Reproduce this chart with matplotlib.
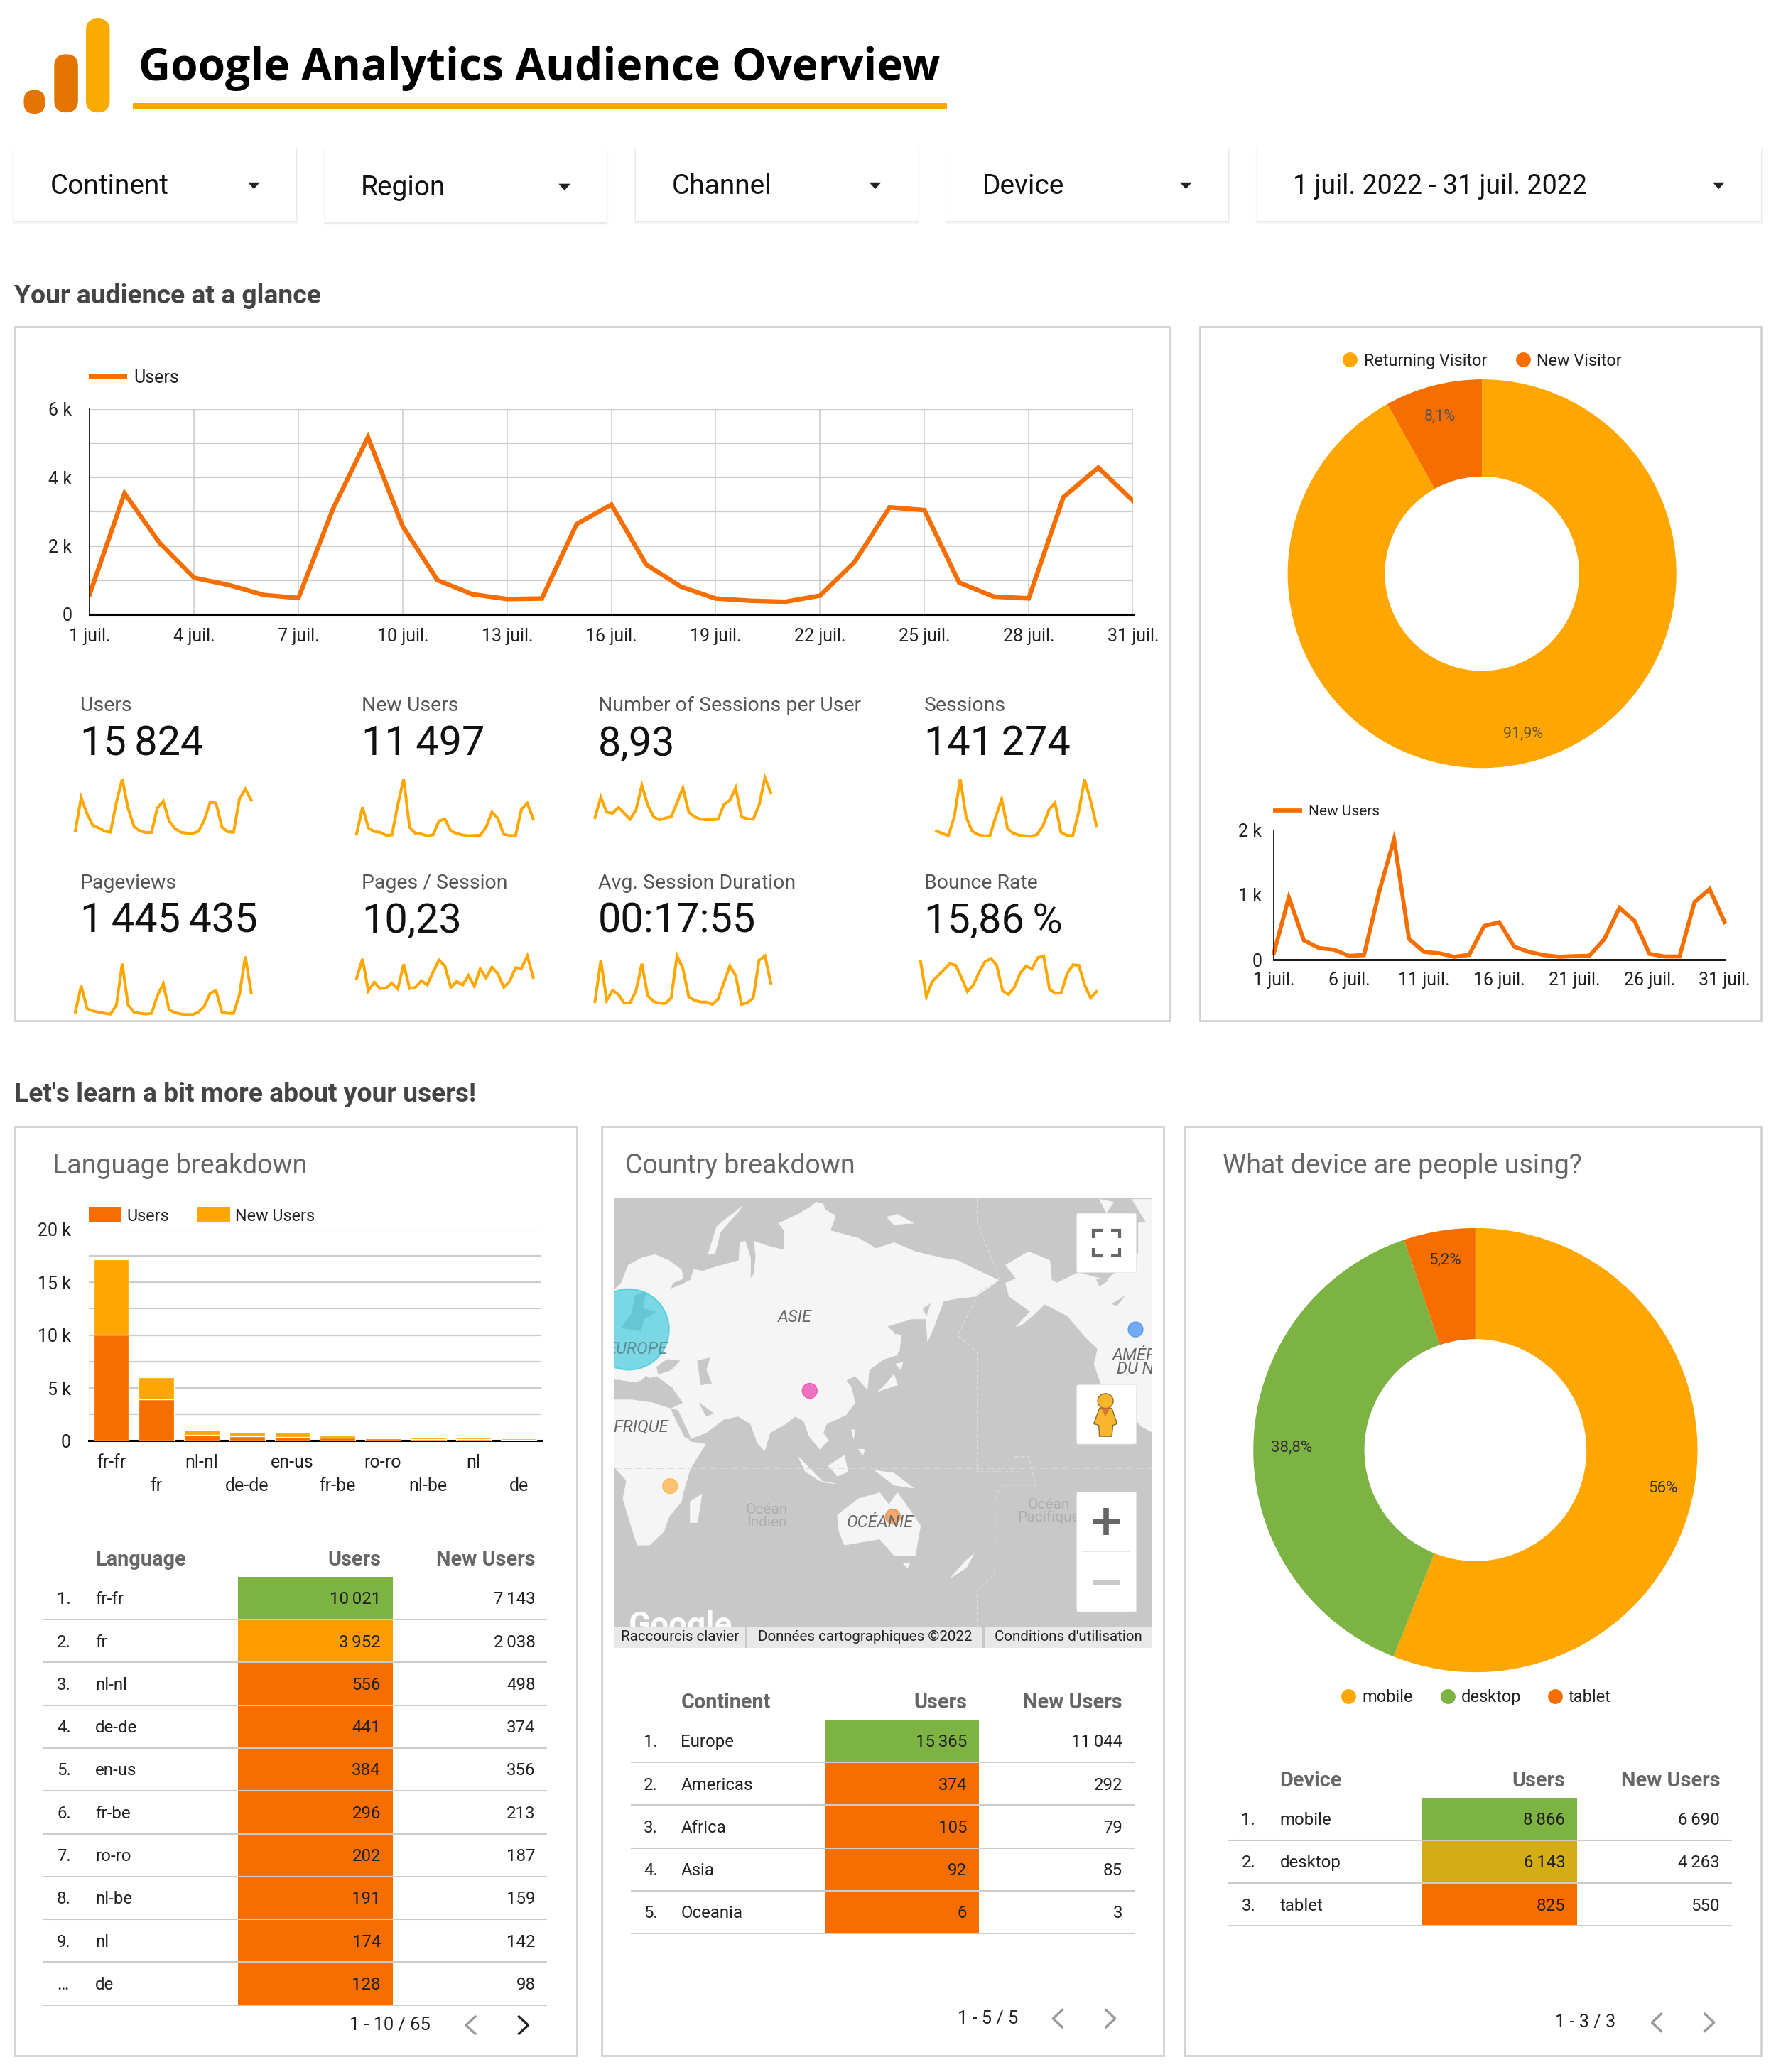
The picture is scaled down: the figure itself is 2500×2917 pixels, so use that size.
import matplotlib
matplotlib.use("Agg")
import matplotlib.pyplot as plt
from matplotlib.patches import Rectangle, FancyBboxPatch, Polygon, Ellipse, Circle
plt.rcParams['font.family'] = ['Roboto', 'DejaVu Sans']

# ---------- data ----------
NB = '\u202f'
days = list(range(1, 32))
users = [600,3540,2100,1070,860,570,480,3100,5180,2570,1000,590,450,465,2640,3210,1460,810,465,400,370,550,1540,3130,3050,930,520,470,3430,4290,3320]
new_users = [100,960,300,180,155,60,70,1040,1860,320,120,100,45,75,520,580,200,120,70,45,55,60,320,800,600,90,50,50,890,1090,580]
sessions_spark = [30,20,10,90,250,90,30,15,10,10,90,165,40,20,12,10,8,15,55,120,150,25,12,10,110,248,160,53]
per_user_spark = [87,173,110,105,130,105,80,120,223,140,90,77,85,90,150,213,110,90,80,78,78,80,142,160,213,90,82,80,140,255,192]
pageviews_spark = [15,127,30,20,15,10,7,45,220,45,15,10,7,10,85,135,25,13,7,5,5,15,40,95,107,15,10,10,90,250,98]
pages_spark = [158,240,105,142,115,117,138,113,218,115,120,148,130,185,235,210,120,145,130,170,125,198,160,205,178,120,145,203,200,253,162]
duration_spark = [60,233,65,107,90,53,55,105,220,85,60,53,52,75,253,200,80,65,58,58,48,70,140,210,170,48,55,75,235,253,138]
bounce_spark = [230,80,145,170,195,220,213,160,102,130,185,228,242,213,105,90,120,180,210,198,245,253,112,95,97,178,215,213,130,75,102]

visitor_share = [91.9, 8.1]
visitor_labels = ['Returning Visitor', 'New Visitor']
device_share = [56, 38.8, 5.2]

languages = ['fr-fr','fr','nl-nl','de-de','en-us','fr-be','ro-ro','nl-be','nl','de']
lang_users = [10021,3952,556,441,384,296,202,191,174,128]
lang_new = [7143,2038,498,374,356,213,187,159,142,98]
continents = ['Europe','Americas','Africa','Asia','Oceania']
cont_users = [15365,374,105,92,6]
cont_new = [11044,292,79,85,3]
devices = ['mobile','desktop','tablet']
dev_users = [8866,6143,825]
dev_new = [6690,4263,550]

# ---------- colours ----------
ORANGE = '#F76E00'; AMBER = '#FFA600'; GREEN = '#7CB342'
GRID = '#CCCCCC'; BORDER = '#D2D2D2'

# ---------- canvas in display units ----------
KX, KY = 1.861, 1.861
W, H = 2500/KX, 2917/KY
fig = plt.figure(figsize=(25, 29.17), dpi=100, facecolor='white')

def box(x0, y0, x1, y1, z=1):
    ax = fig.add_axes([x0/W, 1-y1/H, (x1-x0)/W, (y1-y0)/H], zorder=z)
    ax.patch.set_alpha(0)
    return ax

bg = box(0, 0, W, H, z=0); bg.set_xlim(0, W); bg.set_ylim(H, 0); bg.axis('off')
top = box(0, 0, W, H, z=10); top.set_xlim(0, W); top.set_ylim(H, 0); top.axis('off')

def T(x, y, s, size=17.3, color='#222222', ha='left', weight='normal', **kw):
    return top.text(x, y+1, s, fontsize=size, color=color, ha=ha, va='center', fontweight=weight, **kw)

def fmt(n):
    return f'{n:,}'.replace(',', NB)

# ---------- header ----------
bg.add_patch(FancyBboxPatch((65+9, 14+9), 0.01, 71-18, boxstyle='round,pad=9', fc='#F9AB00', ec='none'))
bg.add_patch(FancyBboxPatch((41+9, 41+9), 0.01, 44-18, boxstyle='round,pad=9', fc='#E37400', ec='none'))
bg.add_patch(FancyBboxPatch((18+8, 68+8), 0.01, 18-16, boxstyle='round,pad=8', fc='#E37400', ec='none'))
T(105, 51, 'Google Analytics Audience Overview', size=44.8, color='black', weight='bold', family=['Open Sans', 'DejaVu Sans'])
bg.add_patch(Rectangle((100.5, 78), 616, 4.5, fc=AMBER, ec='none'))

filters = [('Continent', 11, 224, 112, 28), ('Region', 246, 459, 113, 28), ('Channel', 481, 694, 112, 28), ('Device', 716, 929, 112, 28), ('1 juil. 2022 - 31 juil. 2022', 951, 1332, 112, 27)]
for name, x0, x1, y0, fs in filters:
    for d, a in [(3, .012), (2, .025), (1, .05)]:
        bg.add_patch(Rectangle((x0-d/2, y0), x1-x0+d, 55+d, fc='black', alpha=a, ec='none'))
    bg.add_patch(Rectangle((x0, y0), x1-x0, 55, fc='white', ec='none'))
    T(x0+27, y0+28, name, size=fs, color='#111111')
    ax_ = x1-32
    top.add_patch(Polygon([(ax_-4.5, y0+26), (ax_+4.5, y0+26), (ax_, y0+31)], fc='#222222', ec='none'))

T(11, 223, 'Your audience at a glance', size=26.8, color='#444444', weight='bold')
T(11, 827, "Let's learn a bit more about your users!", size=26.8, color='#444444', weight='bold')

for x0, y0, x1, y1 in [(11.5,247,884.5,772),(907.5,247,1332,772),(11.5,852,436.5,1555),(455,852,880,1555),(896.5,852,1332,1555)]:
    bg.add_patch(Rectangle((x0, y0), x1-x0, y1-y0, fc='white', ec=BORDER, lw=2))

# ---------- main users chart ----------
ax = box(67.9, 309.5, 857, 464.8, z=2)
ax.plot(days, users, color=ORANGE, lw=4.6, solid_joinstyle='miter', zorder=5)
ax.set_xlim(1, 31); ax.set_ylim(0, 6000)
ax.set_xticks(days[::3]); ax.set_xticklabels([f'{d} juil.' for d in days[::3]], fontsize=18, color='#222222')
ax.set_yticks([0, 2000, 4000, 6000]); ax.set_yticklabels(['0', '2 k', '4 k', '6 k'], fontsize=18, color='#222222')
ax.set_yticks([1000, 3000, 5000], minor=True)
ax.grid(True, axis='x', color=GRID, lw=1.1)
ax.grid(True, axis='y', which='both', color=GRID, lw=1.6)
ax.tick_params(axis='both', which='both', length=0)
ax.tick_params(axis='x', pad=14); ax.tick_params(axis='y', pad=18)
for s in ['top', 'right']: ax.spines[s].set_visible(False)
ax.spines['left'].set_color('black'); ax.spines['left'].set_linewidth(1.2)
ax.spines['bottom'].set_color('black'); ax.spines['bottom'].set_linewidth(2.2)
ax.set_axisbelow(True)
top.plot([67, 96], [285, 285], color=ORANGE, lw=4.6, solid_capstyle='butt')
T(101, 285, 'Users', size=18)

# ---------- KPI tiles ----------
kpis = [(60.5, 533, 'Users', fmt(15824)), (273.5, 533, 'New Users', fmt(11497)), (452.5, 533, 'Number of Sessions per User', '8,93'), (699, 533, 'Sessions', fmt(141274)),
        (60.5, 667, 'Pageviews', f'1{NB}445{NB}435'), (273.5, 667, 'Pages / Session', '10,23'), (452.5, 667, 'Avg. Session Duration', '00:17:55'), (699, 667, 'Bounce Rate', f'15,86{NB}%')]
for x, y, lab, val in kpis:
    T(x, y, lab, size=20.5, color='#555555')
    T(x, y+29, val, size=41.5, color='#111111')

def spark(zx0, zx1, zy0, zy1, data):
    x0 = (60+zx0/.9775)/KX; x1 = (60+zx1/.9775)/KX
    y0 = (960+zy0/3)/KY; y1 = (960+zy1/3)/KY
    a = box(x0, y0, x1, y1, z=2)
    a.plot(range(len(data)), data, color=AMBER, lw=2.9, solid_joinstyle='miter', clip_on=False)
    a.set_xlim(0, len(data)-1); a.set_ylim(min(data), max(data)); a.axis('off')

spark(45, 287, 410, 640, users)
spark(432, 675, 410, 650, new_users)
spark(760, 1002, 405, 583, per_user_spark)
spark(1230, 1450, 410, 652, sessions_spark)
spark(45, 287, 1160, 1405, pageviews_spark)
spark(432, 675, 1157, 1305, pages_spark)
spark(760, 1002, 1157, 1362, duration_spark)
spark(1208, 1450, 1157, 1335, bounce_spark)

# ---------- donuts ----------
def donut(cx, cy, r, vals, cols):
    a = box(cx-r, cy-r, cx+r, cy+r, z=2)
    a.pie(vals, colors=cols, startangle=90, counterclock=False, radius=1,
          wedgeprops=dict(width=0.5, edgecolor='none'))
    a.set_xlim(-1, 1); a.set_ylim(-1, 1)

donut(1121, 434, 147, visitor_share, [AMBER, ORANGE])
for x, col, lab in [(1021, AMBER, visitor_labels[0]), (1152, ORANGE, visitor_labels[1])]:
    top.plot([x], [272], 'o', color=col, ms=15, mew=0)
    T(x+10.5, 272, lab, size=16.8)
T(1089, 314, '8,1%', size=15.5, color='#555555', ha='center')
T(1152, 554, '91,9%', size=15.5, color='#6B5A20', ha='center')

donut(1116, 1097, 168, device_share, [AMBER, GREEN, ORANGE])
T(1258, 1125, '56%', size=16, ha='center', color='#333333')
T(977, 1094, '38,8%', size=16, ha='center', color='#333333')
T(1093, 952, '5,2%', size=16, ha='center', color='#333333')
for x, col, lab in zip([1020, 1095, 1176], [AMBER, GREEN, ORANGE], devices):
    top.plot([x], [1283], 'o', color=col, ms=15, mew=0)
    T(x+10.5, 1283, lab, size=17)

# ---------- new users chart ----------
ax = box(963.5, 628, 1304.5, 726, z=2)
ax.plot(days, new_users, color=ORANGE, lw=4.1, solid_joinstyle='miter', clip_on=False)
ax.set_xlim(1, 31); ax.set_ylim(0, 2000)
ax.set_xticks(days[::5]); ax.set_xticklabels([f'{d} juil.' for d in days[::5]], fontsize=18, color='#222222')
ax.set_yticks([0, 1000, 2000]); ax.set_yticklabels(['0', '1 k', '2 k'], fontsize=18, color='#222222')
ax.tick_params(axis='both', length=0); ax.tick_params(axis='x', pad=12); ax.tick_params(axis='y', pad=12)
for s in ['top', 'right']: ax.spines[s].set_visible(False)
ax.spines['left'].set_linewidth(1.2); ax.spines['bottom'].set_linewidth(2)
top.plot([963, 985], [613, 613], color=ORANGE, lw=4.1, solid_capstyle='butt')
T(990, 613, 'New Users', size=15)

# ---------- language chart ----------
T(40, 881, 'Language breakdown', size=27, color='#666666')
T(473, 881, 'Country breakdown', size=27, color='#666666')
T(925, 881, 'What device are people using?', size=27, color='#666666')
ax = box(67, 930, 409.5, 1090, z=2)
xs = list(range(len(languages)))
ax.bar(xs, lang_users, width=.78, color=ORANGE, edgecolor='white', lw=.9, zorder=3)
ax.bar(xs, lang_new, bottom=lang_users, width=.78, color=AMBER, edgecolor='white', lw=.9, zorder=3)
ax.set_xlim(-.5, 9.5); ax.set_ylim(0, 20000)
ax.set_xticks(xs); ax.set_xticklabels(languages, fontsize=18, color='#222222')
for i, tk in enumerate(ax.xaxis.get_major_ticks()):
    tk.set_pad(13 if i % 2 == 0 else 37)
ax.set_yticks(range(0, 20001, 5000)); ax.set_yticklabels(['0', '5 k', '10 k', '15 k', '20 k'], fontsize=18, color='#222222')
ax.set_yticks(range(2500, 20000, 5000), minor=True)
ax.grid(True, axis='y', which='both', color=GRID, lw=1.6); ax.set_axisbelow(True)
ax.tick_params(axis='both', which='both', length=0); ax.tick_params(axis='y', pad=18)
for s in ['top', 'right', 'left']: ax.spines[s].set_visible(False)
ax.spines['bottom'].set_linewidth(2.2)
for x, col, lab in [(67, ORANGE, 'Users'), (149, AMBER, 'New Users')]:
    top.add_patch(Rectangle((x, 913), 25, 12, fc=col, ec='none'))
    T(x+29, 919, lab, size=16.8)

# ---------- tables ----------
def cell_colour(v, vmax, first):
    if first: return GREEN
    r = v/vmax
    if r > .5: return '#D4AC14'
    if r > .3: return '#FF9D00'
    return ORANGE

def table(xsep0, xsep1, xidx, xname, xc0, xc1, xnew, y0, head, names, us, nw, foot, fx, fy, ch, chl, chr_):
    rh = 32.4
    T(xname, y0-30, head, size=20.8, color='#666666', weight='bold')
    T(xc1-9, y0-30, 'Users', size=20.8, color='#666666', weight='bold', ha='right')
    T(xnew, y0-30, 'New Users', size=20.8, color='#666666', weight='bold', ha='right')
    for i, (n, u, w) in enumerate(zip(names, us, nw)):
        cy = y0 + rh*i
        bg.add_patch(Rectangle((xc0, cy-16.2), xc1-xc0, rh, fc=cell_colour(u, us[0], i == 0), ec='none'))
        top.plot([xsep0, xsep1], [cy+16.2, cy+16.2], color=GRID, lw=1.5, solid_capstyle='butt')
        T(xidx, cy, f'{i+1}.' if i < 9 else '…', color='#222222')
        T(xname, cy, n)
        T(xc1-9, cy, fmt(u), ha='right')
        T(xnew, cy, fmt(w), ha='right')
    T(fx, fy-1, foot, size=18.3, ha='center')
    for x, sgn, col in [(chl, 1, '#9A9A9A'), (chr_, -1, ch)]:
        top.plot([x+sgn*3.5, x-sgn*3.5, x+sgn*3.5], [fy-6.5, fy, fy+6.5], color=col, lw=2.4)

table(33, 414, 43, 72, 180, 297, 405, 1209, 'Language', languages, lang_users, lang_new, '1 - 10 / 65', 295, 1532, '#222222', 356, 396)
table(477, 858, 487, 515, 624, 740.5, 849, 1317, 'Continent', continents, cont_users, cont_new, '1 - 5 / 5', 747, 1527, '#9A9A9A', 800, 840)
table(929, 1310, 939, 968, 1076, 1193, 1301, 1376, 'Device', devices, dev_users, dev_new, '1 - 3 / 3', 1199, 1530, '#9A9A9A', 1253, 1293)

# ---------- map (background sketch, in its own pixel frame) ----------
m = box(464, 906.5, 871, 1246.5, z=2)
m.set_xlim(8, 1527); m.set_ylim(1518, 17); m.set_xticks([]); m.set_yticks([])
for s in m.spines.values(): s.set_visible(False)
m.patch.set_alpha(1); m.set_facecolor('#C8C8C8')
LAND = '#F5F5F5'; SEA = '#C8C8C8'
land = [
 [(0,335),(30,300),(50,240),(90,215),(125,205),(165,225),(200,255),(205,285),(175,300),(170,320),(200,305),(225,290),(235,255),(260,260),(300,245),(330,235),(362,225),(365,165),(380,160),(395,215),(395,285),(405,270),(410,210),(405,160),(440,175),(490,190),(490,125),(475,100),(530,70),(565,45),(580,30),(600,35),(605,55),(635,75),(620,125),(700,150),(750,185),(800,165),(860,195),(930,215),(980,225),(1040,260),(1095,290),(1075,310),(1030,345),(985,350),(940,360),(915,440),(895,495),(890,420),(905,365),(880,385),(895,420),(850,420),(780,445),(800,465),(815,500),(810,540),(770,555),(730,590),(725,655),(690,610),(665,625),(680,650),(690,700),(665,740),(610,770),(600,800),(615,825),(590,855),(560,810),(545,760),(520,745),(495,770),(450,800),(435,860),(415,835),(395,770),(360,745),(320,755),(270,800),(225,820),(190,760),(170,720),(205,700),(175,650),(130,610),(70,630),(0,620)],
 [(0,690),(60,690),(120,700),(170,720),(190,775),(225,830),(268,838),(225,920),(205,1000),(200,1030),(165,1080),(150,1130),(110,1175),(75,1175),(55,1100),(35,1020),(45,960),(0,900)],
 [(1115,240),(1180,195),(1240,225),(1245,290),(1260,300),(1320,265),(1400,290),(1490,200),(1490,100),(1540,90),(1540,805),(1500,780),(1385,640),(1365,570),(1375,520),(1340,480),(1290,410),(1225,370),(1200,400),(1160,440),(1145,445),(1185,395),(1125,345),(1115,300),(1145,285)],
 [(640,1075),(700,1020),(760,1000),(785,1040),(810,1000),(875,1110),(860,1210),(800,1210),(760,1155),(660,1175),(645,1130)],
 [(530,880),(600,965),(635,970),(590,960),(550,930)], [(615,910),(660,875),(670,930),(640,945)],
 [(745,925),(800,935),(855,985),(800,975)], [(225,1100),(225,1030),(258,1005),(245,1100)],
 [(960,1285),(1000,1230),(1025,1205),(1005,1250)], [(825,1235),(845,1235),(838,1252)],
 [(800,605),(810,640),(755,662),(775,640)], [(805,470),(820,475),(815,530),(805,520)],
 [(805,570),(825,565),(820,590)], [(700,855),(718,855),(712,875)], [(680,790),(690,790),(686,820)],
 [(780,80),(810,70),(855,100),(800,105)], [(275,205),(300,110),(370,45),(365,55),(310,130),(295,200)],
 [(1380,20),(1420,30),(1400,65)], [(1470,20),(1530,20),(1530,130)],
]
for p in land:
    m.add_patch(Polygon(p, fc=LAND, ec=LAND, lw=.5, joinstyle='round'))
for p in [[(130,580),(160,555),(195,560),(170,590),(135,605)], [(245,560),(280,550),(270,590),(285,635),(255,640)],
          [(0,640),(30,625),(60,660),(100,610),(130,640),(175,650),(170,690),(100,680),(0,660)], [(170,720),(190,725),(225,815),(210,815)],
          [(250,700),(290,735),(270,745)], [(30,450),(60,400),(70,340),(100,330),(90,385),(130,395),(95,420),(85,460)],
          [(1370,285),(1405,290),(1380,310)], [(1415,370),(1450,345),(1430,375)]]:
    m.add_patch(Polygon(p, fc=SEA, ec=SEA, lw=.5))
m.plot([8, 1527], [918, 918], color='#DADADA', lw=1.2, ls=(0, (6, 3)))
m.plot([1035, 1035, 1100, 1040, 980, 1035, 1035, 1150], [17, 100, 290, 330, 475, 530, 930, 930], color='#DADADA', lw=1, ls=(0, (4, 2)))
m.plot([1035, 1035, 1085, 1085, 1100, 1200, 1180, 1140], [1450, 1330, 1270, 1030, 975, 975, 880, 880], color='#DADADA', lw=1, ls=(0, (4, 2)))
m.add_patch(Ellipse((51, 455), 228, 270, fc='#26C6DA', ec='#26C6DA', alpha=.6, lw=1.5))
for cx, cy, col in [(562, 660, '#EC3FAE'), (1482, 455, '#3F8EF0'), (168, 978, '#FFB23E'), (797, 1080, '#F08A3C')]:
    m.add_patch(Ellipse((cx, cy), 42, 50, fc=col, ec=col, alpha=.72, lw=1))
MT = dict(fontsize=17, va='center', clip_on=True, style='italic')
m.text(521, 414, 'ASIE', color='#666666', ha='center', **MT)
m.text(75, 522, 'EUROPE', color='#5E8F98', ha='center', **MT)
m.text(72, 780, 'AFRIQUE', color='#666666', ha='center', **MT)
m.text(760, 1100, 'OCÉANIE', color='#666666', ha='center', **MT)
m.text(1416, 538, 'AMÉRIQUE', color='#666666', ha='left', **MT)
m.text(1428, 588, 'DU NORD', color='#666666', ha='left', **MT)
m.text(440, 1078, 'Océan\nIndien', color='#AEAEAE', ha='center', va='center', fontsize=15, linespacing=.9)
m.text(1237, 1062, 'Océan\nPacifique', color='#AEAEAE', ha='center', va='center', fontsize=15, linespacing=.9, clip_on=True)
for x0, y0, x1, y1 in [(1316, 67, 1484, 265), (1316, 640, 1484, 838), (1316, 998, 1484, 1398)]:
    m.add_patch(FancyBboxPatch((x0+5, y0+5), x1-x0-10, y1-y0-10, boxstyle='round,pad=5', fc='white', ec='#E4E4E4', lw=.5, zorder=5))
for xs_, ys_ in [([1363, 1363, 1388], [150, 124, 124]), ([1412, 1437, 1437], [124, 124, 150]), ([1363, 1363, 1388], [182, 208, 208]), ([1412, 1437, 1437], [208, 208, 182])]:
    m.plot(xs_, ys_, color='#666666', lw=3, zorder=6, solid_joinstyle='miter', solid_capstyle='butt')
m.add_patch(Ellipse((1397, 694), 44, 50, fc='#F9B52E', ec='#8A6D2A', lw=1, zorder=6))
m.add_patch(Polygon([(1380, 718), (1415, 718), (1430, 770), (1418, 775), (1415, 812), (1380, 812), (1378, 775), (1364, 770)], fc='#F9B52E', ec='#8A6D2A', lw=1, zorder=6))
m.add_patch(Polygon([(1385, 718), (1410, 718), (1397, 745)], fc='#D9782B', ec='none', zorder=7))
m.plot([1362, 1437], [1097, 1097], color='#666666', lw=5.5, solid_capstyle='butt', zorder=6)
m.plot([1399, 1399], [1052, 1142], color='#666666', lw=5.5, solid_capstyle='butt', zorder=6)
m.plot([1337, 1462], [1197, 1197], color='#E6E6E6', lw=1.5, zorder=6)
m.plot([1362, 1437], [1300, 1300], color='#C8C8C8', lw=5.5, solid_capstyle='butt', zorder=6)
m.text(50, 1445, 'Google', color='white', fontsize=33, va='center', weight='bold', alpha=.95, zorder=6)
for x0, x1, s in [(12, 380, 'Raccourcis clavier'), (386, 1050, 'Données cartographiques ©2022'), (1056, 1527, "Conditions d'utilisation")]:
    m.add_patch(Rectangle((x0, 1450), x1-x0, 70, fc='#E8E8E8', ec='none', zorder=7))
    m.text((x0+x1)/2, 1482, s, color='#222222', fontsize=14.8, ha='center', va='center', zorder=8)

fig.savefig('out.png', dpi=100, facecolor='white')
